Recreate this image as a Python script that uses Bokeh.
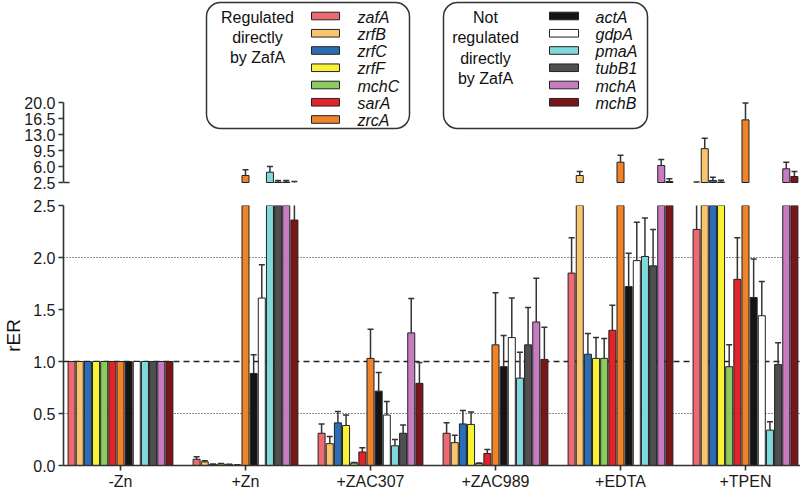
import numpy as np
from bokeh.plotting import figure
from bokeh.layouts import column
from bokeh.models import Range1d, FixedTicker, PrintfTickFormatter, Span, ColumnDataSource
from bokeh.core.properties import value
from bokeh.embed import file_html
from bokeh.resources import INLINE

# ---------------- data ----------------
groups = ["-Zn", "+Zn", "+ZAC307", "+ZAC989", "+EDTA", "+TPEN"]
genes = ["zafA", "zrfB", "zrfC", "zrfF", "mchC", "sarA", "zrcA",
         "actA", "gdpA", "pmaA", "tubB1", "mchA", "mchB"]
colors = ["#EE6A73", "#F9C46E", "#2C6DB7", "#F7F236", "#8CCB5E", "#E3222A", "#F0822A",
          "#141414", "#FFFFFF", "#80D7DC", "#4F4F4F", "#C77CC2", "#7A1518"]

zafA = [1.0, 0.06, 0.31, 0.31, 1.85, 2.27]
zrfB = [1.0, 0.035, 0.21, 0.22, 4.03, 9.9]
zrfC = [1.0, 0.01, 0.41, 0.40, 1.07, 2.95]
zrfF = [1.0, 0.015, 0.385, 0.395, 1.03, 2.6]
mchC = [1.0, 0.01, 0.025, 0.02, 1.03, 0.95]
sarA = [1.0, 0.005, 0.13, 0.115, 1.30, 1.79]
zrcA = [1.0, 4.03, 1.03, 1.16, 6.94, 16.2]
actA = [1.0, 0.885, 0.715, 0.95, 1.72, 1.615]
gdpA = [1.0, 1.61, 0.485, 1.23, 1.97, 1.44]
pmaA = [1.0, 4.75, 0.19, 0.84, 2.01, 0.34]
tubB1 = [1.0, 2.6, 0.31, 1.16, 1.92, 0.97]
mchA = [1.0, 2.6, 1.275, 1.38, 6.22, 5.5]
mchB = [1.0, 2.36, 0.79, 1.02, 2.72, 3.81]

zafA_err = [0, 0.025, 0.09, 0.10, 0.34, 0.35]
zrfB_err = [0, 0.01, 0.07, 0.07, 0.9, 2.3]
zrfC_err = [0, 0.005, 0.11, 0.13, 0.20, 0.7]
zrfF_err = [0, 0.005, 0.10, 0.12, 0.20, 0.4]
mchC_err = [0, 0.003, 0.005, 0.005, 0.19, 0.21]
sarA_err = [0, 0.002, 0.04, 0.04, 0.24, 0.40]
zrcA_err = [0, 1.25, 0.28, 0.5, 1.5, 3.7]
actA_err = [0, 0.18, 0.18, 0.30, 0.32, 0.37]
gdpA_err = [0, 0.32, 0.13, 0.38, 0.37, 0.33]
pmaA_err = [0, 1.25, 0.06, 0.25, 0.37, 0.08]
tubB1_err = [0, 0.35, 0.08, 0.36, 0.35, 0.21]
mchA_err = [0, 0.35, 0.33, 0.42, 1.3, 1.44]
mchB_err = [0, 0.36, 0.2, 0.31, 0.6, 1.1]

values = [zafA, zrfB, zrfC, zrfF, mchC, sarA, zrcA, actA, gdpA, pmaA, tubB1, mchA, mchB]
errors = [zafA_err, zrfB_err, zrfC_err, zrfF_err, mchC_err, sarA_err, zrcA_err,
          actA_err, gdpA_err, pmaA_err, tubB1_err, mchA_err, mchB_err]

top_ticks = [2.5, 6.0, 9.5, 13.0, 16.5, 20.0]
bottom_ticks = [0.0, 0.5, 1.0, 1.5, 2.0, 2.5]
BREAK = 2.5

# ---------------- layout constants ----------------
FONT = "Liberation Sans"
AX = "#333333"
W = 800
X0, X1 = -0.456, 5.44
PXU = 737 / (X1 - X0)      # pixels per group unit
STEP = 0.0652
BW = STEP * 0.86
K = 17.5 / 80.0            # data units per pixel in the upper panel
TOP_START = BREAK - 3 * K
TOP_END = BREAK + 182 * K

xr = Range1d(X0, X1)

# ---------------- build sources ----------------
bx, btop, bcol = [], [], []
wx, wy0, wy1 = [], [], []
tx, ttop, tcol = [], [], []
twx, twy0, twy1 = [], [], []
for j, (vals, errs) in enumerate(zip(values, errors)):
    for i, (v, e) in enumerate(zip(vals, errs)):
        x = i + (j - 6) * STEP
        bx.append(x); btop.append(v); bcol.append(colors[j])
        if e > 0:
            wx.append(x); wy0.append(v); wy1.append(v + e)
        if v > BREAK:
            tx.append(x); ttop.append(v); tcol.append(colors[j])
        if e > 0 and v + e > BREAK:
            twx.append(x); twy0.append(max(v, BREAK)); twy1.append(v + e)

bars_src = ColumnDataSource(dict(x=bx, top=btop, color=bcol))
wh_src = ColumnDataSource(dict(x=wx, y0=wy0, y1=wy1))
tbars_src = ColumnDataSource(dict(x=tx, top=ttop, color=tcol))
twh_src = ColumnDataSource(dict(x=twx, y0=twy0, y1=twy1))


def style_axis(ax):
    ax.axis_line_color = AX
    ax.axis_line_width = 1.6
    ax.major_tick_line_color = AX
    ax.major_tick_line_width = 1.6
    ax.major_tick_out = 5
    ax.major_tick_in = 0
    ax.minor_tick_line_color = None
    ax.major_label_text_font = FONT
    ax.major_label_text_font_size = "16px"
    ax.major_label_text_color = "#1a1a1a"


# ---------------- upper panel ----------------
pt = figure(width=W, height=193, x_range=xr, y_range=Range1d(TOP_START, TOP_END),
            output_backend="svg", toolbar_location=None, x_axis_location=None,
            min_border_left=63, min_border_right=0, min_border_top=0, min_border_bottom=8)
pt.outline_line_color = None
pt.xgrid.visible = False
pt.ygrid.visible = False
pt.yaxis.ticker = FixedTicker(ticks=top_ticks)
pt.yaxis.formatter = PrintfTickFormatter(format="%.1f")
pt.yaxis.bounds = (BREAK, top_ticks[-1])
style_axis(pt.yaxis[0])
pt.yaxis.major_label_standoff = 3

pt.vbar(x="x", top="top", bottom=BREAK, width=BW, fill_color="color",
        line_color="#222222", line_width=1, source=tbars_src)
pt.segment(x0="x", y0="y0", x1="x", y1="y1", line_color="#333333", line_width=1.5, source=twh_src)
pt.scatter(x="x", y="y1", marker="dash", size=6, line_color="#333333", line_width=1.5, source=twh_src)
# break mark on the upper axis
pt.segment(x0=[X0], y0=[BREAK], x1=[X0 + 6 / PXU], y1=[BREAK], line_color=AX, line_width=1.6)

# legends (positions in pixels converted to data units)
def lx(rx):
    return X0 + (rx - 63) / PXU

def ly(ry):
    return BREAK + (182 - ry) * K

legend_boxes = [(206, 409), (443, 647)]
for (l, r) in legend_boxes:
    pt.quad(left=[lx(l)], right=[lx(r)], top=[ly(2)], bottom=[ly(128)], border_radius=14,
            fill_color="white", line_color="#333333", line_width=1.5)

head1 = ["Regulated", "directly", "by ZafA"]
head2 = ["Not", "regulated", "directly", "by ZafA"]
pt.text(x=[lx(257)] * len(head1), y=[ly(17 + 20 * k) for k in range(len(head1))], text=head1,
        text_align="center", text_baseline="middle", text_font=value(FONT),
        text_font_size="16px", text_color="#111111")
pt.text(x=[lx(485)] * len(head2), y=[ly(17 + 20.3 * k) for k in range(len(head2))], text=head2,
        text_align="center", text_baseline="middle", text_font=value(FONT),
        text_font_size="16px", text_color="#111111")

row_gap = 17.25
for (sl, sr, tl, idx) in [(311, 339, 357, range(0, 7)), (549, 578, 595, range(7, 13))]:
    idx = list(idx)
    ys = [15.5 + row_gap * k for k in range(len(idx))]
    pt.quad(left=[lx(sl)] * len(idx), right=[lx(sr)] * len(idx),
            top=[ly(y - 3.8) for y in ys], bottom=[ly(y + 3.8) for y in ys],
            fill_color=[colors[i] for i in idx], line_color="#222222", line_width=1)
    pt.text(x=[lx(tl)] * len(idx), y=[ly(y + 1) for y in ys], text=[genes[i] for i in idx],
            text_align="left", text_baseline="middle", text_font=value(FONT),
            text_font_style="italic", text_font_size="16px", text_color="#111111")

# ---------------- lower panel ----------------
pb = figure(width=W, height=299, x_range=xr, y_range=Range1d(0, BREAK),
            output_backend="svg", toolbar_location=None,
            min_border_left=63, min_border_right=0, min_border_top=12, min_border_bottom=25)
pb.outline_line_color = None
pb.xgrid.visible = False
pb.ygrid.visible = False
pb.yaxis.ticker = FixedTicker(ticks=bottom_ticks)
pb.yaxis.formatter = PrintfTickFormatter(format="%.1f")
style_axis(pb.yaxis[0])
pb.yaxis.major_label_standoff = 3
pb.yaxis.axis_label = "rER"
pb.yaxis.axis_label_text_font = FONT
pb.yaxis.axis_label_text_font_size = "19px"
pb.yaxis.axis_label_text_font_style = "normal"
pb.yaxis.axis_label_text_color = "#111111"
pb.yaxis.axis_label_standoff = 6
pb.xaxis.ticker = FixedTicker(ticks=list(range(len(groups))))
pb.xaxis.major_label_overrides = {i: g for i, g in enumerate(groups)}
style_axis(pb.xaxis[0])
pb.xaxis.major_label_standoff = 2

for loc, dash, lw in [(0.5, "1 2", 1.0), (2.0, "1 2", 1.0), (1.0, "6 4", 1.5)]:
    pb.add_layout(Span(location=loc, dimension="width", line_color="#222222",
                       line_dash=dash, line_width=lw, level="underlay"))

pb.vbar(x="x", top="top", bottom=0, width=BW, fill_color="color",
        line_color="#222222", line_width=1, source=bars_src)
pb.segment(x0="x", y0="y0", x1="x", y1="y1", line_color="#333333", line_width=1.5, source=wh_src)
pb.scatter(x="x", y="y1", marker="dash", size=6, line_color="#333333", line_width=1.5, source=wh_src)

layout = column(pt, pb, spacing=0)
open("out.html", "w").write(file_html(layout, INLINE))
